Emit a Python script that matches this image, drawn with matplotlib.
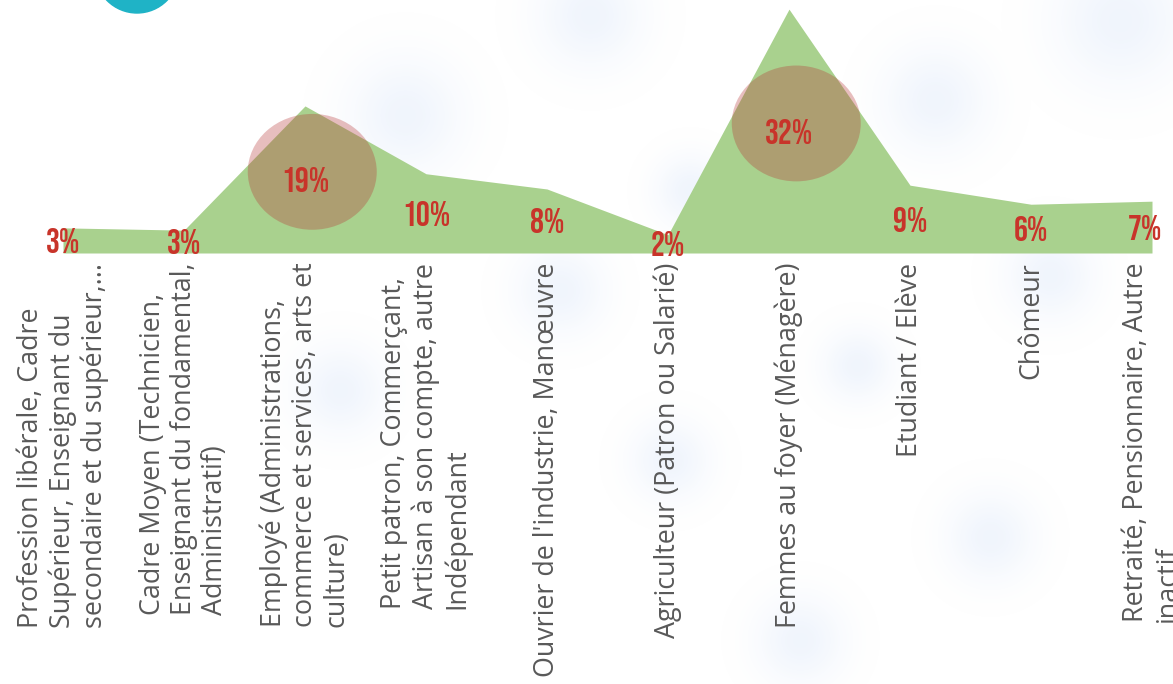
import numpy as np
import matplotlib
matplotlib.use('Agg')
import matplotlib.pyplot as plt
from matplotlib.patches import Ellipse, Circle

categories = [
    "Profession libérale, Cadre\nSupérieur, Enseignant du\nsecondaire et du supérieur,...",
    "Cadre Moyen (Technicien,\nEnseignant du fondamental,\nAdministratif)",
    "Employé (Administrations,\ncommerce et services, arts et\nculture)",
    "Petit patron, Commerçant,\nArtisan à son compte, autre\nIndépendant",
    "Ouvrier de l'industrie, Manœuvre",
    "Agriculteur (Patron ou Salarié)",
    "Femmes au foyer (Ménagère)",
    "Etudiant / Elève",
    "Chômeur",
    "Retraité, Pensionnaire, Autre\ninactif",
]
values = [3.3, 3.0, 19.3, 10.4, 8.4, 2.4, 32.0, 8.9, 6.4, 6.8]
labels = ["3%", "3%", "19%", "10%", "8%", "2%", "32%", "9%", "6%", "7%"]
highlight = [2, 6]

W, H = 1173, 684
fig = plt.figure(figsize=(W / 100, H / 100), dpi=100)

# soft blue blobs in the background (decoration only)
blobs = [(1120, 20, 75), (590, 15, 60), (405, 115, 65), (935, 100, 60),
         (690, 190, 40), (560, 290, 50), (340, 390, 50), (670, 460, 45),
         (857, 365, 40), (990, 537, 50), (800, 640, 50), (1050, 275, 50)]
yy, xx = np.mgrid[0:H, 0:W]
alpha = np.zeros((H, W))
for bx, by, br in blobs:
    d = np.hypot(xx - bx, yy - by)
    alpha = np.maximum(alpha, 0.13 * np.exp(-(d / (0.85 * br)) ** 2))
img = np.zeros((H, W, 4))
img[..., 0] = 0.55
img[..., 1] = 0.70
img[..., 2] = 0.93
img[..., 3] = alpha
bg = fig.add_axes([0, 0, 1, 1], zorder=0)
bg.imshow(img, extent=(0, W, H, 0), aspect='auto')
bg.add_patch(Circle((137, -29), 42, color='#1fb3c6'))
bg.set_xlim(0, W)
bg.set_ylim(H, 0)
bg.axis('off')

x0, x1, ybase = 63, 1152, 253
ax = fig.add_axes([x0 / W, (H - ybase) / H, (x1 - x0) / W, ybase / H], zorder=1)
ax.patch.set_alpha(0)
x = np.arange(len(values))
ax.fill_between(x, 0, values, color='#a9d18e', lw=0)

for i in highlight:
    ax.add_patch(Ellipse((i + 0.06, values[i] / 2 + 1.0), 1.066, 15.2,
                         facecolor='#b73535', alpha=0.32, lw=0, zorder=3))

for i, (v, lab) in enumerate(zip(values, labels)):
    xi = i - 0.06 if i == len(values) - 1 else i
    ax.text(xi, v / 2, lab, ha='center', va='center', color='#c8342a',
            fontsize=25, family=['Bebas Neue', 'Oswald', 'DejaVu Sans'],
            zorder=4, clip_on=False)

ax.set_xlim(0, 9)
ax.set_ylim(0, 33.2)
ax.set_yticks([])
ax.set_xticks(x)
ax.set_xticklabels(categories, rotation=90, ha='center', va='top',
                   multialignment='left', linespacing=1.15,
                   fontsize=19.4, color='#595959', family='Open Sans')
ax.tick_params(axis='x', length=0, pad=7)
for s in ax.spines.values():
    s.set_visible(False)

fig.savefig('out.png', dpi=100)
